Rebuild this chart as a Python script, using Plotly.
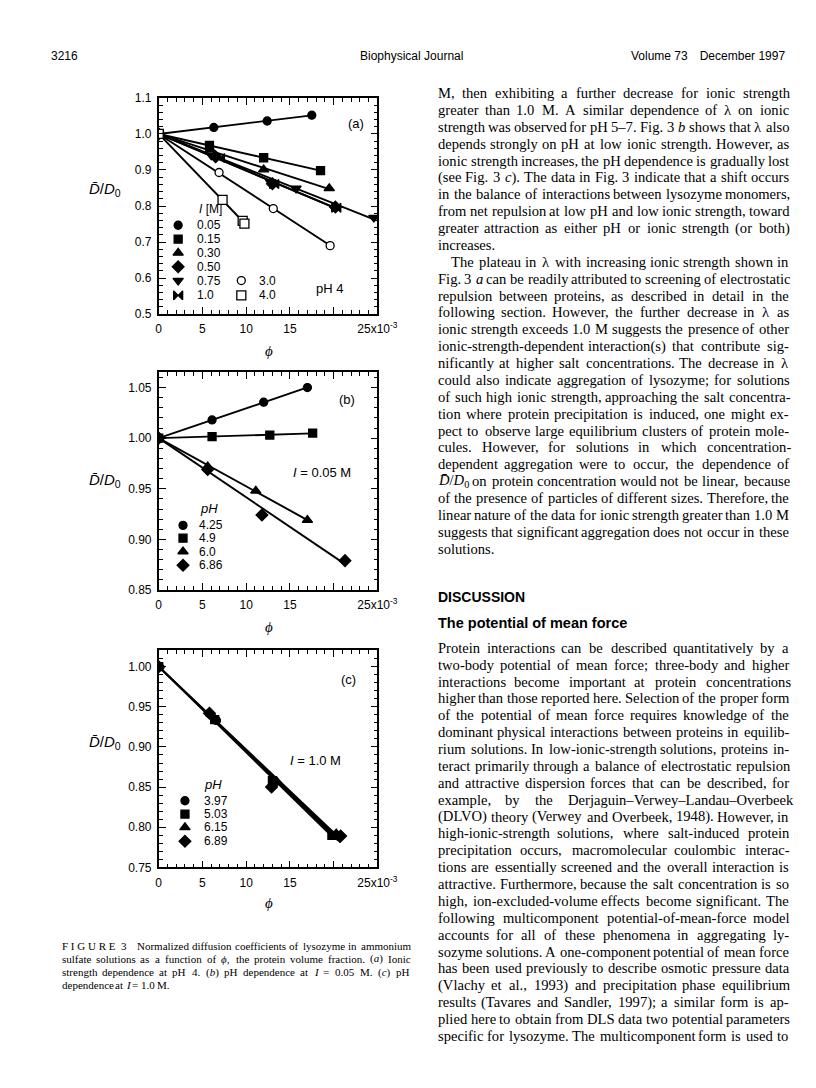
import re
import numpy as np
import plotly.graph_objects as go

W, H = 816, 1088

# ---------------- data ----------------
# Panel (a): ionic strength dependence at pH 4  (phi in units of 1e-3)
a_names = ["0.05", "0.15", "0.30", "0.50", "0.75", "1.0", "3.0", "4.0"]
a_x_005 = [0, 6.3, 12.4, 17.5]
a_y_005 = [1.000, 1.018, 1.036, 1.052]
a_x_015 = [0, 5.8, 12.0, 18.5]
a_y_015 = [1.000, 0.968, 0.934, 0.898]
a_x_030 = [0, 5.9, 12.0, 19.5]
a_y_030 = [1.000, 0.957, 0.901, 0.849]
a_x_050 = [0, 6.5, 13.0, 20.2]
a_y_050 = [1.000, 0.937, 0.862, 0.797]
a_x_075 = [0, 6.0, 12.8, 15.7, 24.6]
a_y_075 = [1.000, 0.941, 0.866, 0.849, 0.768]
a_x_10 = [0, 7.0, 13.2, 20.3]
a_y_10 = [1.000, 0.933, 0.861, 0.795]
a_x_30 = [0, 6.9, 13.1, 19.6]
a_y_30 = [1.000, 0.893, 0.793, 0.690]
a_x_40 = [0, 7.3, 9.6, 9.8]
a_y_40 = [1.000, 0.817, 0.759, 0.751]

# Panel (b): pH dependence at I = 0.05 M
b_names = ["4.25", "4.9", "6.0", "6.86"]
b_x_425 = [0, 6.1, 12.0, 17.0]
b_y_425 = [1.000, 1.018, 1.0355, 1.050]
b_x_49 = [0, 6.1, 12.7, 17.6]
b_y_49 = [1.000, 1.0015, 1.003, 1.005]
b_x_60 = [0, 5.6, 11.1, 17.0]
b_y_60 = [1.000, 0.972, 0.948, 0.919]
b_x_686 = [0, 5.6, 11.8, 21.3]
b_y_686 = [1.000, 0.969, 0.924, 0.879]

# Panel (c): pH dependence at I = 1.0 M
c_names = ["3.97", "5.03", "6.15", "6.89"]
c_x_397 = [0, 6.6, 13.3, 20.5]
c_y_397 = [1.000, 0.933, 0.856, 0.789]
c_x_503 = [0, 6.4, 13.0, 19.8]
c_y_503 = [1.000, 0.934, 0.858, 0.790]
c_x_615 = [0, 6.0, 13.5, 20.3]
c_y_615 = [1.000, 0.941, 0.857, 0.792]
c_x_689 = [0, 5.8, 12.9, 20.8]
c_y_689 = [1.000, 0.942, 0.850, 0.789]

x_tickvals = [0, 5, 10, 15, 20, 25]
x_ticktext = ["0", "5", "10", "15", " ", "25x10<sup>-3</sup>"]

# ---------------- styles ----------------
SANS = "Liberation Sans, Arial, Helvetica, sans-serif"
SERIF = "Liberation Serif, Times New Roman, serif"
SYM = {"circle": ("circle", True), "square": ("square", True),
       "tri": ("triangle-up", True), "diamond": ("diamond", True),
       "trid": ("triangle-down", True), "bowtie": ("bowtie", True),
       "ocircle": ("circle", False), "osquare": ("square", False)}
SIZE = {"circle": 8, "square": 8, "tri": 9, "diamond": 9, "trid": 9,
        "bowtie": 9, "ocircle": 8, "osquare": 9}


def marker(kind):
    sym, filled = SYM[kind]
    return dict(symbol=sym, size=SIZE[kind],
                color="black" if filled else "white",
                line=dict(color="black", width=1.3))


fig = go.Figure()


def add_series(x, y, kind, ax):
    xa = np.array(x, float)
    ya = np.array(y, float)
    slope = np.sum(xa * (ya - 1.0)) / np.sum(xa * xa)
    xs = np.array([0.0, xa.max()])
    fig.add_trace(go.Scatter(x=xs, y=1.0 + slope * xs, mode="lines",
                             line=dict(color="black", width=1.9),
                             xaxis="x" + ax, yaxis="y" + ax,
                             hoverinfo="skip"))
    fig.add_trace(go.Scatter(x=xa, y=ya, mode="markers", marker=marker(kind),
                             xaxis="x" + ax, yaxis="y" + ax))


panel_a = [(a_x_005, a_y_005, "circle"), (a_x_015, a_y_015, "square"),
           (a_x_030, a_y_030, "tri"), (a_x_050, a_y_050, "diamond"),
           (a_x_075, a_y_075, "trid"), (a_x_10, a_y_10, "bowtie"),
           (a_x_30, a_y_30, "ocircle"), (a_x_40, a_y_40, "osquare")]
panel_b = [(b_x_425, b_y_425, "circle"), (b_x_49, b_y_49, "square"),
           (b_x_60, b_y_60, "tri"), (b_x_686, b_y_686, "diamond")]
panel_c = [(c_x_397, c_y_397, "circle"), (c_x_503, c_y_503, "square"),
           (c_x_615, c_y_615, "tri"), (c_x_689, c_y_689, "diamond")]

for s in panel_a:
    add_series(*s, "")
for s in panel_b:
    add_series(*s, "2")
for s in panel_c:
    add_series(*s, "3")


def xax(anchor):
    return dict(domain=[152 / W, 377 / W], anchor=anchor, range=[0, 25],
                tickmode="array", tickvals=x_tickvals, ticktext=x_ticktext,
                showline=True, linecolor="black", linewidth=1.6, mirror="ticks",
                ticks="inside", ticklen=7, tickwidth=1.3, tickcolor="black",
                minor=dict(ticks="inside", ticklen=4, tickwidth=1.1,
                           tickcolor="black", tickmode="array",
                           tickvals=list(range(0, 26))),
                showgrid=False, zeroline=False, ticklabelstandoff=3,
                tickfont=dict(family=SANS, size=12, color="black"))


def yax(anchor, top, bottom, rng, dtick, minor, fmt):
    return dict(domain=[1 - bottom / H, 1 - top / H], anchor=anchor, range=rng,
                tick0=rng[0], dtick=dtick, tickformat=fmt,
                showline=True, linecolor="black", linewidth=1.6, mirror="ticks",
                ticks="inside", ticklen=7, tickwidth=1.3, tickcolor="black",
                minor=dict(ticks="inside", ticklen=4, tickwidth=1.1,
                           tickcolor="black", dtick=minor, tick0=rng[0]),
                showgrid=False, zeroline=False, ticklabelstandoff=3,
                tickfont=dict(family=SANS, size=12, color="black"))


fig.update_layout(
    width=W, height=H, margin=dict(l=0, r=0, t=0, b=0),
    paper_bgcolor="white", plot_bgcolor="rgba(0,0,0,0)", showlegend=False,
    xaxis=xax("y"), yaxis=yax("x", 84, 303, [0.5, 1.1], 0.1, 0.02, ".1f"),
    xaxis2=xax("y2"), yaxis2=yax("x2", 362, 582.5, [0.85, 1.065], 0.05, 0.01, ".2f"),
    xaxis3=xax("y3"), yaxis3=yax("x3", 643.5, 863.5, [0.75, 1.0205], 0.05, 0.01, ".2f"),
    xaxis4=dict(domain=[0, 1], anchor="y4", range=[0, W], visible=False),
    yaxis4=dict(domain=[0, 1], anchor="x4", range=[H, 0], visible=False),
)


def ann(text, x, y, size=12, family=SANS, xanchor="left", yanchor="middle"):
    fig.add_annotation(text=text, x=x / W, y=1 - y / H, xref="paper", yref="paper",
                       showarrow=False, xanchor=xanchor, yanchor=yanchor,
                       borderpad=0, font=dict(family=family, size=size, color="black"))


# legend keys (page pixel coordinates)
def key(kind, x, y):
    fig.add_trace(go.Scatter(x=[x], y=[y], mode="markers", marker=marker(kind),
                             xaxis="x4", yaxis="y4", hoverinfo="skip"))


ann("<i>I</i> [M]", 192, 197)
rows_a = [213, 227, 241, 255, 269, 284]
for (s, name, y) in zip(panel_a[:6], a_names[:6], rows_a):
    key(s[2], 172, y)
    ann(name, 190, y)
for (s, name, y) in zip(panel_a[6:], a_names[6:], rows_a[4:]):
    key(s[2], 237, y)
    ann(name, 254, y)
ann("pH 4", 328, 277, size=13, xanchor="center")
ann("(a)", 355, 110, size=13, xanchor="center")

ann("<i>pH</i>", 193, 500, size=13)
rows_b = [517, 530, 543.5, 557.5]
for (s, name, y) in zip(panel_b, b_names, rows_b):
    key(s[2], 177, y)
    ann(name, 192, y)
ann("(b)", 346, 390, size=13, xanchor="center")
ann("<i>I</i> = 0.05 M", 320, 463, size=13, xanchor="center")

ann("<i>pH</i>", 198, 780, size=13)
rows_c = [796, 809.5, 823, 837]
for (s, name, y) in zip(panel_c, c_names, rows_c):
    key(s[2], 179, y)
    ann(name, 198, y)
ann("(c)", 347, 673, size=13, xanchor="center")
ann("<i>I</i> = 1.0 M", 313, 755, size=13, xanchor="center")

# axis titles
ylab = "<i>D\u0304</i>/<i>D</i><sub>0</sub>"
for yy in (177, 472, 737):
    ann(ylab, 97, yy, size=15, xanchor="center")
for yy in (340, 620, 900):
    ann("<i>\u03d5</i>", 265, yy, size=15, family=SERIF, xanchor="center")

# ---------------- page text ----------------
TW = {' ': 250, '!': 333, '(': 333, ')': 333, ',': 250, '-': 333, '.': 250,
      '/': 278, ':': 278, ';': 278, '=': 564, '?': 444,
      'A': 722, 'B': 667, 'C': 667, 'D': 722, 'E': 611, 'F': 556, 'G': 722,
      'H': 722, 'I': 333, 'J': 389, 'K': 722, 'L': 611, 'M': 889, 'N': 722,
      'O': 722, 'P': 556, 'Q': 722, 'R': 667, 'S': 556, 'T': 611, 'U': 722,
      'V': 722, 'W': 944, 'X': 722, 'Y': 722, 'Z': 611,
      'a': 444, 'b': 500, 'c': 444, 'd': 500, 'e': 444, 'f': 333, 'g': 500,
      'h': 500, 'i': 278, 'j': 278, 'k': 500, 'l': 278, 'm': 778, 'n': 500,
      'o': 500, 'p': 500, 'q': 500, 'r': 333, 's': 389, 't': 278, 'u': 500,
      'v': 500, 'w': 722, 'x': 500, 'y': 500, 'z': 444,
      '\u2013': 500, '\u03bb': 500, '\u03d5': 560, '\u0304': 0}


def word_w(word, size):
    tot = 0.0
    for m in re.finditer(r'<sub>(.*?)</sub>|<[^>]+>|([^<]+)', word):
        if m.group(1) is not None:
            tot += 0.7 * sum(TW.get(c, 500) for c in m.group(1))
        elif m.group(2) is not None:
            tot += sum(TW.get(c, 500) for c in m.group(2))
    return tot * size / 1000.0


def set_line(line, x0, x1, y, size, justify):
    words = line.split(" ")
    ws = [word_w(w, size) for w in words]
    if justify and len(words) > 1:
        gap = max((x1 - x0 - sum(ws)) / (len(words) - 1), 0.2 * size)
    else:
        gap = 0.27 * size
    x = x0
    for w, wd in zip(words, ws):
        ann(w, x, y, size=size, family=SERIF)
        x += wd + gap


def paragraph(lines, x0, x1, y0, dy, size, indent=0.0, last_justified=False):
    for k, line in enumerate(lines):
        just = (k < len(lines) - 1) or last_justified
        set_line(line, x0 + (indent if k == 0 else 0), x1, y0 + k * dy, size, just)


COL_L, COL_R = 438, 799
BODY = 14.6
DY = 17.1

P1 = [
    "M, then exhibiting a further decrease for ionic strength",
    "greater than 1.0 M. A similar dependence of \u03bb on ionic",
    "strength was observed for pH 5\u20137. Fig. 3 <i>b</i> shows that \u03bb also",
    "depends strongly on pH at low ionic strength. However, as",
    "ionic strength increases, the pH dependence is gradually lost",
    "(see Fig. 3 <i>c</i>). The data in Fig. 3 indicate that a shift occurs",
    "in the balance of interactions between lysozyme monomers,",
    "from net repulsion at low pH and low ionic strength, toward",
    "greater attraction as either pH or ionic strength (or both)",
    "increases.",
]
P2 = [
    "The plateau in \u03bb with increasing ionic strength shown in",
    "Fig. 3 <i>a</i> can be readily attributed to screening of electrostatic",
    "repulsion between proteins, as described in detail in the",
    "following section. However, the further decrease in \u03bb as",
    "ionic strength exceeds 1.0 M suggests the presence of other",
    "ionic-strength-dependent interaction(s) that contribute sig-",
    "nificantly at higher salt concentrations. The decrease in \u03bb",
    "could also indicate aggregation of lysozyme; for solutions",
    "of such high ionic strength, approaching the salt concentra-",
    "tion where protein precipitation is induced, one might ex-",
    "pect to observe large equilibrium clusters of protein mole-",
    "cules. However, for solutions in which concentration-",
    "dependent aggregation were to occur, the dependence of",
    "<i>D\u0304</i>/<i>D</i><sub>0</sub> on protein concentration would not be linear, because",
    "of the presence of particles of different sizes. Therefore, the",
    "linear nature of the data for ionic strength greater than 1.0 M",
    "suggests that significant aggregation does not occur in these",
    "solutions.",
]
P3 = [
    "Protein interactions can be described quantitatively by a",
    "two-body potential of mean force; three-body and higher",
    "interactions become important at protein concentrations",
    "higher than those reported here. Selection of the proper form",
    "of the potential of mean force requires knowledge of the",
    "dominant physical interactions between proteins in equilib-",
    "rium solutions. In low-ionic-strength solutions, proteins in-",
    "teract primarily through a balance of electrostatic repulsion",
    "and attractive dispersion forces that can be described, for",
    "example, by the Derjaguin\u2013Verwey\u2013Landau\u2013Overbeek",
    "(DLVO) theory (Verwey and Overbeek, 1948). However, in",
    "high-ionic-strength solutions, where salt-induced protein",
    "precipitation occurs, macromolecular coulombic interac-",
    "tions are essentially screened and the overall interaction is",
    "attractive. Furthermore, because the salt concentration is so",
    "high, ion-excluded-volume effects become significant. The",
    "following multicomponent potential-of-mean-force model",
    "accounts for all of these phenomena in aggregating ly-",
    "sozyme solutions. A one-component potential of mean force",
    "has been used previously to describe osmotic pressure data",
    "(Vlachy et al., 1993) and precipitation phase equilibrium",
    "results (Tavares and Sandler, 1997); a similar form is ap-",
    "plied here to obtain from DLS data two potential parameters",
    "specific for lysozyme. The multicomponent form is used to",
]

Y1 = 79
paragraph(P1, COL_L, COL_R, Y1, DY, BODY)
paragraph(P2, COL_L, COL_R, Y1 + len(P1) * DY, DY, BODY, indent=14)
ann("<b>DISCUSSION</b>", COL_L, 590, size=14, family=SANS)
ann("<b>The potential of mean force</b>", COL_L, 615.5, size=14.5, family=SANS)
paragraph(P3, COL_L, COL_R, 641, DY, BODY, last_justified=True)

# caption
CAP = 11.0
CDY = 13.3
ann("F I G U R E", 51, 943, size=CAP, family=SERIF)
ann("3", 112, 943, size=CAP, family=SERIF)
set_line("Normalized diffusion coefficients of lysozyme in ammonium",
         129, 409, 943, CAP, True)
CAPL = [
    "sulfate solutions as a function of <i>\u03d5</i>, the protein volume fraction. (<i>a</i>) Ionic",
    "strength dependence at pH 4. (<i>b</i>) pH dependence at <i>I</i> = 0.05 M. (<i>c</i>) pH",
    "dependence at <i>I</i> = 1.0 M.",
]
paragraph(CAPL, 51, 409, 943 + CDY, CDY, CAP)

# running header
ann("3216", 40, 42, size=12)
ann("Biophysical Journal", 412, 42, size=12, xanchor="center")
ann("Volume 73\u2003December 1997", 797, 42, size=12, xanchor="right")

fig.write_html("out.html")
